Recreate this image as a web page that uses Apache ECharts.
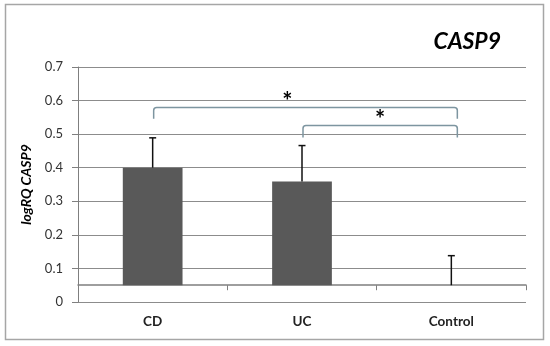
<!DOCTYPE html>
<html>
<head>
<meta charset="utf-8">
<script src="https://cdn.jsdelivr.net/npm/echarts@6/dist/echarts.min.js"></script>
<style>html,body{margin:0;padding:0;background:#fff}#c{width:550px;height:346px}</style>
</head>
<body>
<div id="c"></div>
<script>
// ---- data ----
const categories = ['CD', 'UC', 'Control'];
const means = [0.40, 0.359, 0.05];
const errors = [0.089, 0.107, 0.088];
const axisCross = 0.05;          // value at which the category axis crosses
const yTicks = [0, 0.1, 0.2, 0.3, 0.4, 0.5, 0.6, 0.7];
// significance brackets: [fromIndex, toIndex, topValue, tipValue]
const bracketFrom = [0, 1];
const bracketTo = [2, 2];
const bracketTop = [0.579, 0.526];
const bracketTip = [0.546, 0.490];
const bracketLabel = ['*', '*'];

const FONT = 'Lato, "Open Sans", sans-serif';
const grid = {left: 78, right: 24, top: 67, bottom: 44};
const gridH = 346 - grid.top - grid.bottom;
const yMax = yTicks[yTicks.length - 1];

const chart = echarts.init(document.getElementById('c'), null, {renderer: 'canvas'});

const barData = categories.map((c, i) => [i, means[i]]);
const errData = categories.map((c, i) => [i, means[i], means[i] + errors[i]]);
const brData = bracketFrom.map((f, i) => [f, bracketTo[i], bracketTop[i], bracketTip[i], i]);

chart.setOption({
  animation: false,
  backgroundColor: '#fff',
  graphic: [{
    type: 'rect', shape: {x: 5.5, y: 4.5, width: 538, height: 335},
    style: {fill: 'none', stroke: '#a6a6a6', lineWidth: 1.5}, z: 0
  }],
  title: {
    text: 'CASP9', right: 44, top: 25,
    textStyle: {fontFamily: FONT, fontSize: 23, fontWeight: 'bold', fontStyle: 'italic', color: '#000'}
  },
  grid: grid,
  xAxis: {
    type: 'category', data: categories, boundaryGap: true,
    offset: -gridH * axisCross / yMax,
    axisLine: {lineStyle: {color: '#7f7f7f', width: 1.5}},
    axisTick: {show: true, interval: 0, length: 5, lineStyle: {color: '#7f7f7f'}},
    axisLabel: {margin: 29, fontFamily: FONT, fontSize: 13.5, fontWeight: 'bold', color: '#222'}
  },
  yAxis: {
    type: 'value', min: yTicks[0], max: yMax, interval: 0.1,
    name: 'logRQ CASP9', nameLocation: 'middle', nameGap: 42, nameRotate: 90,
    nameTextStyle: {fontFamily: FONT, fontSize: 14, fontWeight: 'bold', fontStyle: 'italic', color: '#000'},
    axisLine: {show: true, lineStyle: {color: '#7f7f7f', width: 1}},
    axisTick: {show: true, inside: false, length: 6, lineStyle: {color: '#7f7f7f'}},
    axisLabel: {margin: 15, fontFamily: FONT, fontSize: 13, color: '#333',
      formatter: v => String(Math.round(v * 10) / 10)},
    splitLine: {show: true, lineStyle: {color: '#8c8c8c', width: 1}}
  },
  series: [
    {
      type: 'custom', data: barData, z: 3,
      renderItem: (params, api) => {
        const i = api.value(0), v = api.value(1);
        const p0 = api.coord([i, axisCross]);
        const p1 = api.coord([i, v]);
        const w = api.size([1, 0])[0] * 0.4;
        return {type: 'rect', shape: {x: p0[0] - w / 2, y: Math.min(p0[1], p1[1]), width: w, height: Math.abs(p0[1] - p1[1])},
          style: {fill: '#595959'}};
      }
    },
    {
      type: 'custom', data: errData, z: 4,
      renderItem: (params, api) => {
        const i = api.value(0);
        const p0 = api.coord([i, api.value(1)]);
        const p1 = api.coord([i, api.value(2)]);
        return {type: 'group', children: [
          {type: 'line', shape: {x1: p0[0], y1: p0[1], x2: p1[0], y2: p1[1]}, style: {stroke: '#111', lineWidth: 1.5}},
          {type: 'line', shape: {x1: p1[0] - 3.5, y1: p1[1], x2: p1[0] + 3.5, y2: p1[1]}, style: {stroke: '#111', lineWidth: 1.5}}
        ]};
      }
    },
    {
      type: 'custom', data: brData, z: 5,
      renderItem: (params, api) => {
        const a = api.coord([api.value(0), api.value(2)]);
        const b = api.coord([api.value(1), api.value(2)]);
        const tip = api.coord([api.value(0), api.value(3)]);
        const x1 = a[0] + 1, x2 = b[0] + 6, yT = a[1], yB = tip[1], r = 3;
        const k = api.value(4);
        const starX = k === 0 ? x1 + (x2 - x1) * 0.44 : (x1 + x2) / 2;
        return {type: 'group', children: [
          {type: 'path', shape: {pathData: `M${x1} ${yB} L${x1} ${yT + r} Q${x1} ${yT} ${x1 + r} ${yT} L${x2 - r} ${yT} Q${x2} ${yT} ${x2} ${yT + r} L${x2} ${yB}`},
            style: {fill: 'none', stroke: '#7d95a0', lineWidth: 1.5}},
          {type: 'text', x: starX, y: yT - 5, style: {text: bracketLabel[k], fontSize: 24, fontWeight: 'bold', fontFamily: FONT, fill: '#000', align: 'center', verticalAlign: 'middle'}}
        ]};
      }
    }
  ]
});
</script>
</body>
</html>
